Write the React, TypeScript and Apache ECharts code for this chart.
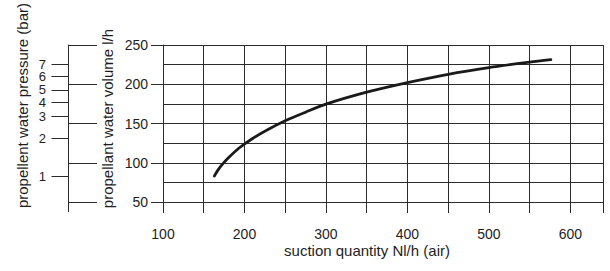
import React, { useEffect, useRef } from 'react';
import * as echarts from 'echarts';

// curve: suction quantity (Nl/h air) vs propellant water volume (l/h)
const suctionQuantity = [163, 167, 172, 180, 193, 210, 230, 250, 275, 300, 350, 400, 450, 500, 550, 576];
const waterVolume = [83, 90, 97, 106, 118.5, 131, 143, 153.5, 164.5, 174.8, 190, 202.2, 212.8, 221.3, 228.3, 231.5];

// tick labels
const xTickLabels = [100, 200, 300, 400, 500, 600];
const volumeTickLabels = [50, 100, 150, 200, 250];

// pressure scale: label and the water volume it lines up with
const pressureLabels = ['1', '2', '3', '4', '5', '6', '7'];
const pressureAtVolume = [83.1, 131.4, 159.4, 177.4, 193, 210.6, 225.7];

const FONT = '"Liberation Sans", Arial, Helvetica, sans-serif';
const INK = '#1e1e1e';
const GRID = '#2b2b2b';

const pressureFormatter = (v: number) => {
  let best = 0;
  let d = Infinity;
  pressureAtVolume.forEach((p, i) => {
    const dd = Math.abs(p - v);
    if (dd < d) {
      d = dd;
      best = i;
    }
  });
  return pressureLabels[best];
};

export default function App() {
  const ref = useRef<HTMLDivElement>(null);

  useEffect(() => {
    if (!ref.current) return;
    const chart = echarts.init(ref.current, undefined, { renderer: 'svg' });
    const lineStyle = { color: GRID, width: 1 };
    const oddPressure = pressureAtVolume.filter((_, i) => i % 2 === 0);
    const evenPressure = pressureAtVolume.filter((_, i) => i % 2 === 1);
    const pressureLabelStyle = {
      show: true,
      margin: 22,
      fontFamily: FONT,
      fontSize: 13,
      lineHeight: 10,
      color: INK,
      showMinLabel: true,
      showMaxLabel: true,
      hideOverlap: false,
      formatter: pressureFormatter,
    };
    chart.setOption({
      animation: false,
      backgroundColor: '#ffffff',
      grid: { left: 163, right: 7, top: 43, bottom: 69, containLabel: false },
      xAxis: {
        type: 'value',
        min: 100,
        max: 640,
        interval: 50,
        name: 'suction quantity Nl/h (air)',
        nameLocation: 'middle',
        nameGap: 48,
        nameMoveOverlap: false,
        nameTextStyle: {
          fontFamily: FONT,
          fontSize: 15,
          color: INK,
          verticalAlign: 'middle',
          padding: [0, 32, 0, 0],
        },
        axisLine: { show: true, lineStyle },
        axisTick: { show: true, inside: false, length: 11, lineStyle },
        axisLabel: {
          margin: 25,
          fontFamily: FONT,
          fontSize: 14,
          color: INK,
          formatter: (v: number) => (xTickLabels.includes(v) ? String(v) : ''),
        },
        splitLine: { show: true, lineStyle },
      },
      yAxis: [
        {
          type: 'value',
          min: 50,
          max: 250,
          interval: 50,
          position: 'left',
          name: 'propellant water volume l/h',
          nameLocation: 'middle',
          nameRotate: 90,
          nameGap: 56,
          nameMoveOverlap: false,
          nameTextStyle: {
            fontFamily: FONT,
            fontSize: 15,
            color: INK,
            verticalAlign: 'middle',
            padding: [0, 0, 0, 10],
          },
          axisLine: { show: true, lineStyle },
          axisTick: { show: true, inside: false, length: 12, lineStyle },
          minorTick: { show: false, splitNumber: 2 },
          minorSplitLine: { show: true, lineStyle },
          axisLabel: {
            margin: 15,
            fontFamily: FONT,
            fontSize: 14,
            color: INK,
            formatter: (v: number) => (volumeTickLabels.includes(v) ? String(v) : ''),
          },
          splitLine: { show: true, lineStyle },
        },
        {
          type: 'value',
          min: 50,
          max: 250,
          interval: 50,
          position: 'left',
          offset: 95,
          axisLine: { show: true, lineStyle },
          axisTick: { show: true, inside: true, length: 29, lineStyle },
          axisLabel: { show: false },
          splitLine: { show: false },
        },
        {
          type: 'value',
          min: 50,
          max: 250,
          position: 'left',
          offset: 95,
          name: 'propellent water pressure (bar)',
          nameLocation: 'middle',
          nameRotate: 90,
          nameGap: 45.5,
          nameMoveOverlap: false,
          nameTextStyle: {
            fontFamily: FONT,
            fontSize: 15,
            color: INK,
            verticalAlign: 'middle',
            padding: [0, 0, 0, 36],
          },
          axisLine: { show: false },
          axisTick: {
            show: true,
            inside: false,
            length: 16.5,
            customValues: pressureAtVolume,
            lineStyle,
          },
          axisLabel: { ...pressureLabelStyle, customValues: oddPressure },
          splitLine: { show: false },
        },
        {
          type: 'value',
          min: 50,
          max: 250,
          position: 'left',
          offset: 95,
          axisLine: { show: false },
          axisTick: { show: false },
          axisLabel: { ...pressureLabelStyle, customValues: evenPressure },
          splitLine: { show: false },
        },
      ],
      graphic: [
        {
          type: 'line',
          shape: { x1: 68.5, y1: 202, x2: 68.5, y2: 212 },
          style: { stroke: GRID, lineWidth: 1 },
        },
      ],
      series: [
        {
          type: 'line',
          xAxisIndex: 0,
          yAxisIndex: 0,
          data: suctionQuantity.map((x, i) => [x, waterVolume[i]]),
          smooth: 0.3,
          showSymbol: false,
          symbol: 'none',
          lineStyle: { color: '#1a1a1a', width: 2.8, cap: 'round' },
          silent: true,
        },
      ],
    });
    return () => chart.dispose();
  }, []);

  return (
    <div
      ref={ref}
      style={{ position: 'fixed', left: 0, top: 0, width: 610, height: 271, background: '#fff' }}
    />
  );
}
